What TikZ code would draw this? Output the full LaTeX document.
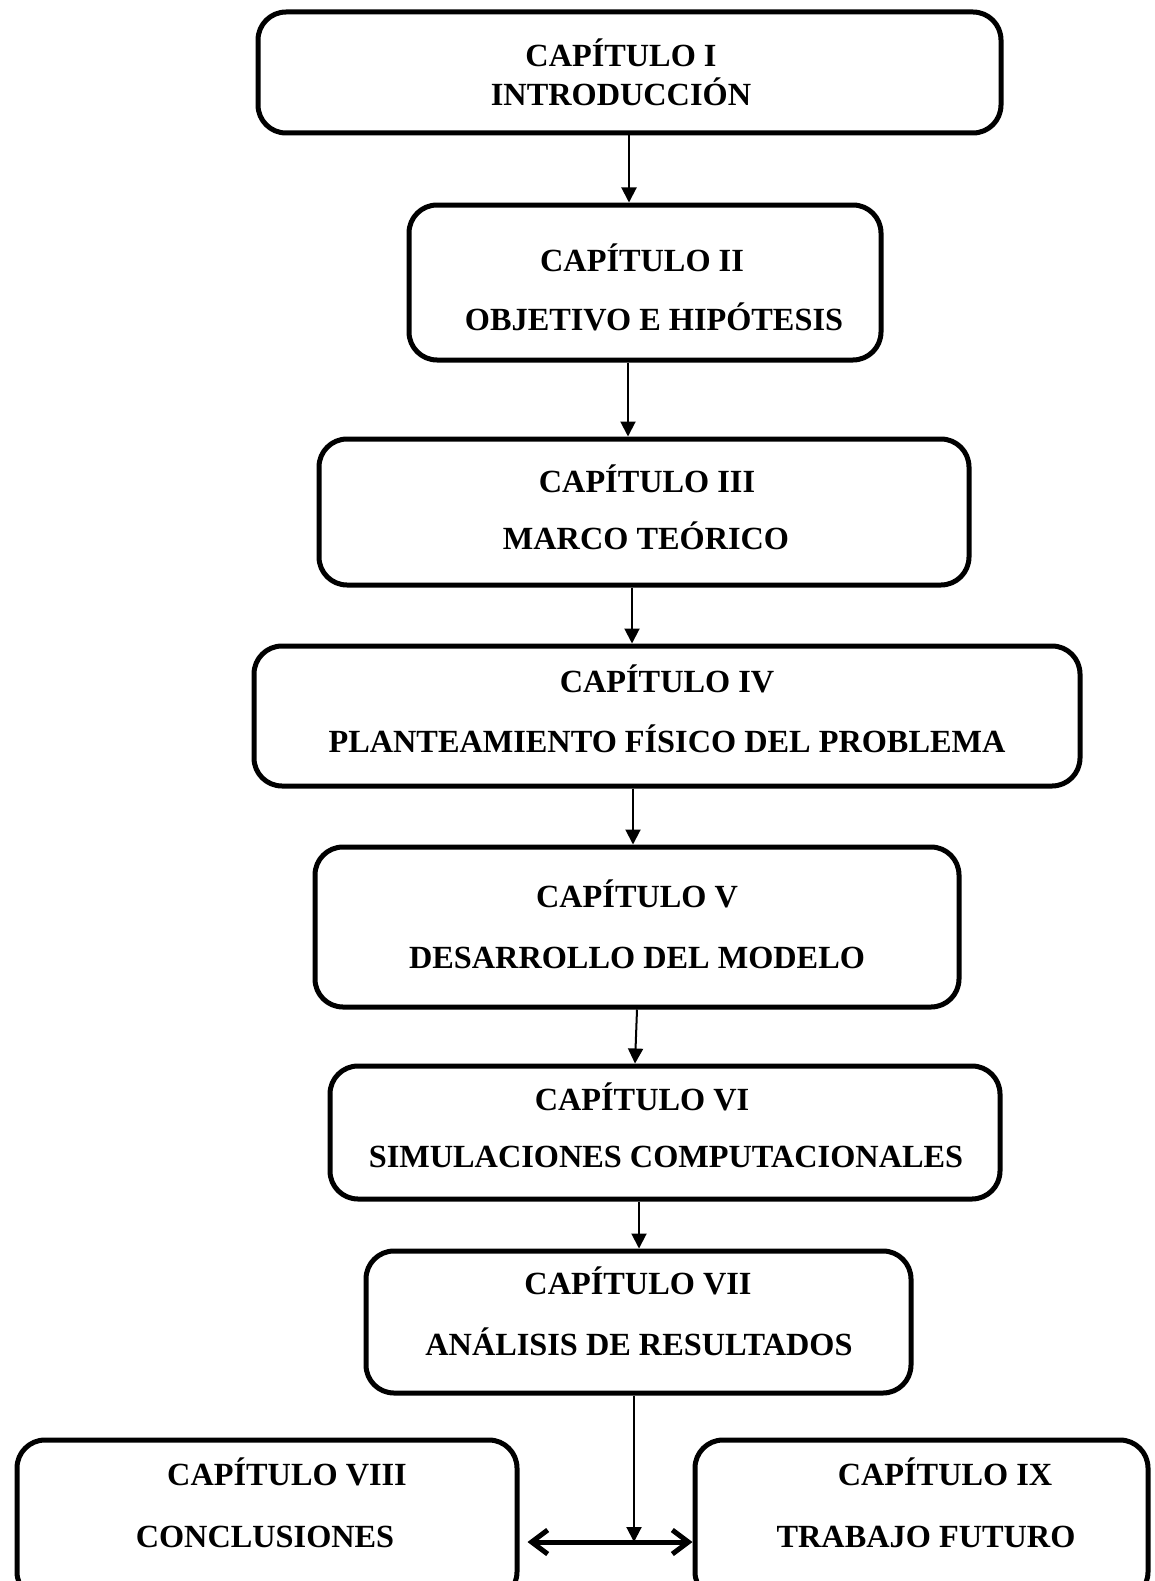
\documentclass[tikz,border=0pt]{standalone}
\usepackage{fontspec}
\setmainfont{Liberation Serif}
\usetikzlibrary{arrows.meta}
\begin{document}
\begin{tikzpicture}[x=1pt,y=-1pt,
  box/.style={draw, line width=5pt, rounded corners=28pt, inner sep=0pt},
  lbl/.style={anchor=base, inner sep=0pt, font=\fontsize{32.3}{38}\selectfont\bfseries},
  arr/.style={line width=2pt, -{Triangle[length=15pt,width=15pt]}},
  dbl/.style={line width=5pt, {Straight Barb[length=16pt,width=24pt]}-{Straight Barb[length=16pt,width=24pt]}}]
\useasboundingbox (0,0) rectangle (1155,1581);
\clip (0,0) rectangle (1155,1581);
% boxes
\node[box, minimum width=743pt, minimum height=121pt] (b1) at (629.5,72.5) {};
\node[box, minimum width=472pt, minimum height=155pt] (b2) at (645,282.5) {};
\node[box, minimum width=650pt, minimum height=146pt] (b3) at (644,512) {};
\node[box, minimum width=826pt, minimum height=140pt] (b4) at (667,716) {};
\node[box, minimum width=644pt, minimum height=160pt] (b5) at (637,927) {};
\node[box, minimum width=670pt, minimum height=133pt] (b6) at (665,1132.5) {};
\node[box, minimum width=545pt, minimum height=142pt] (b7) at (638.5,1322) {};
\node[box, minimum width=500pt, minimum height=160pt] (b8) at (267,1520) {};
\node[box, minimum width=453pt, minimum height=160pt] (b9) at (921.5,1520) {};
% texts
\node[lbl] (t1a) at (621,67) {CAPÍTULO I};
\node[lbl] (t1b) at (621,106) {INTRODUCCIÓN};
\node[lbl] (t2a) at (642,271) {CAPÍTULO II};
\node[lbl] (t2b) at (654,330) {OBJETIVO E HIPÓTESIS};
\node[lbl] (t3a) at (647,492) {CAPÍTULO III};
\node[lbl] (t3b) at (646,549) {MARCO TEÓRICO};
\node[lbl] (t4a) at (667,692) {CAPÍTULO IV};
\node[lbl] (t4b) at (667,752) {PLANTEAMIENTO FÍSICO DEL PROBLEMA};
\node[lbl] (t5a) at (637,907) {CAPÍTULO V};
\node[lbl] (t5b) at (637,968) {DESARROLLO DEL MODELO};
\node[lbl] (t6a) at (642,1110) {CAPÍTULO VI};
\node[lbl] (t6b) at (666,1167) {SIMULACIONES COMPUTACIONALES};
\node[lbl] (t7a) at (638,1294) {CAPÍTULO VII};
\node[lbl] (t7b) at (639,1355) {ANÁLISIS DE RESULTADOS};
\node[lbl] (t8a) at (287,1485) {CAPÍTULO VIII};
\node[lbl] (t8b) at (265,1547) {CONCLUSIONES};
\node[lbl] (t9a) at (945,1485) {CAPÍTULO IX};
\node[lbl] (t9b) at (926,1547) {TRABAJO FUTURO};
% connectors
\draw[arr] ([xshift=-0.5pt]b1.south) coordinate (a1) -- (a1 |- b2.north);
\draw[arr] ([xshift=-17pt]b2.south) coordinate (a2) -- (a2 |- b3.north);
\draw[arr] ([xshift=-12pt]b3.south) coordinate (a3) -- (a3 |- b4.north);
\draw[arr] ([xshift=-34pt]b4.south) coordinate (a4) -- (a4 |- b5.north);
\draw[arr] ([xshift=0pt]b5.south) coordinate (a5) -- ([xshift=-2pt]a5 |- b6.north);
\draw[arr] ([xshift=-26pt]b6.south) coordinate (a6) -- (a6 |- b7.north);
\coordinate (m) at (634,1542);
\draw[arr] (b7.south -| m) -- (m);
\draw[dbl, shorten <=8pt] (b8.east |- m) -- (b9.west |- m);
\end{tikzpicture}
\end{document}
